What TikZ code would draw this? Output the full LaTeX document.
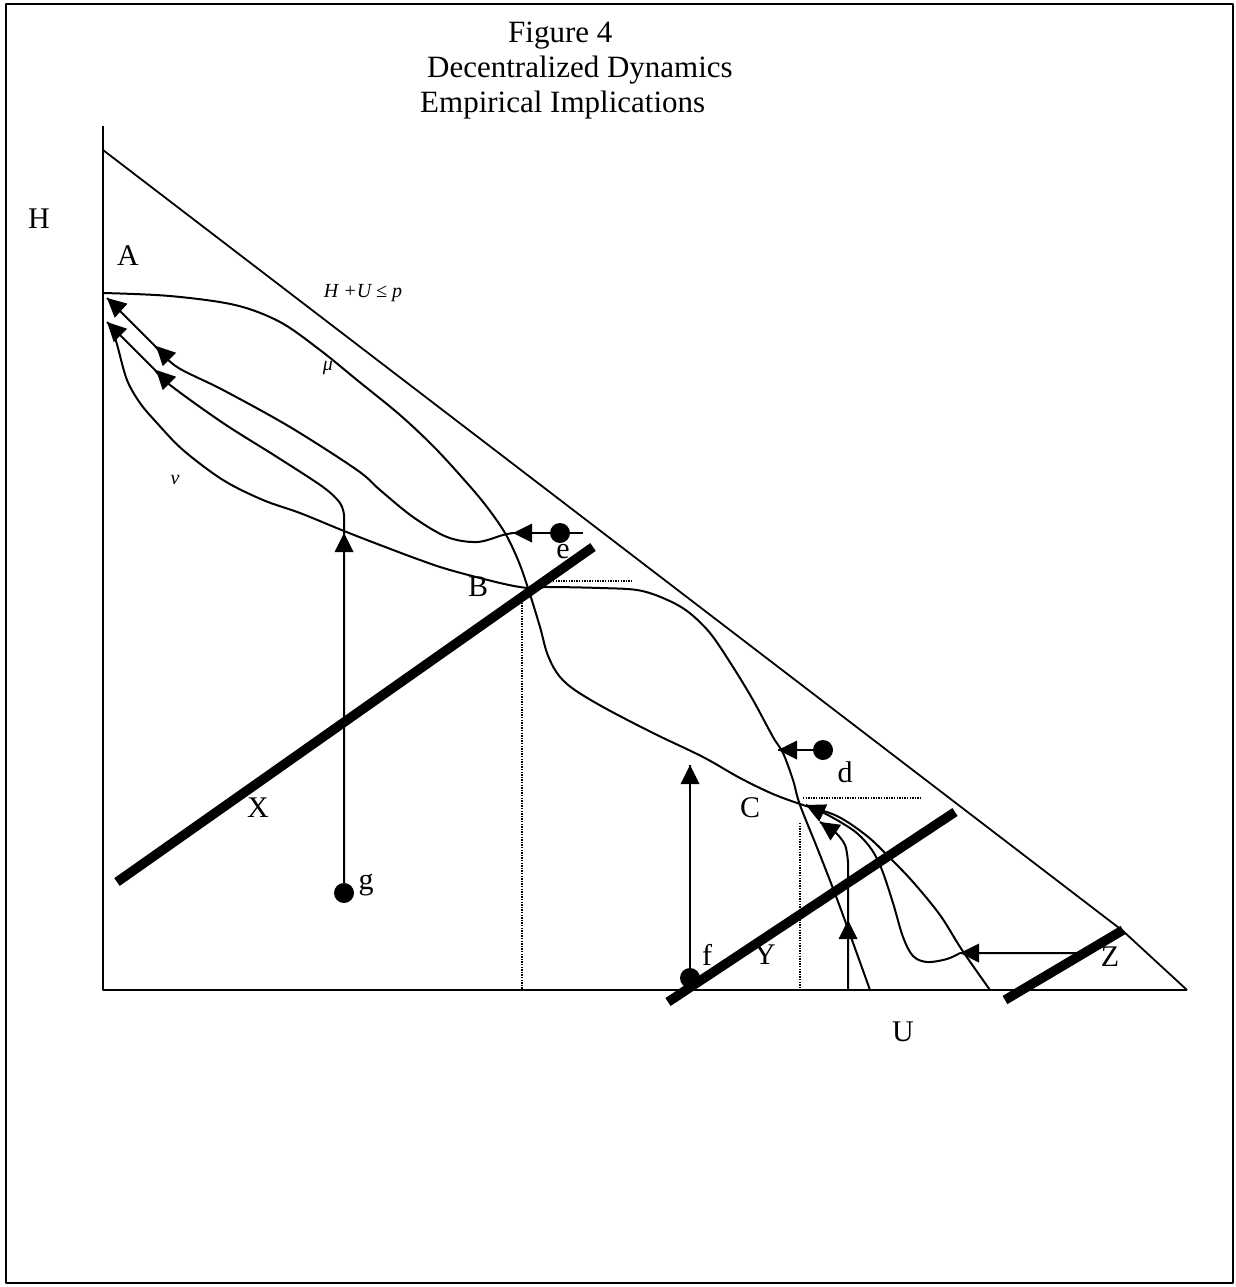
\documentclass[tikz,border=0pt]{standalone}
\usepackage{fontspec}
\setmainfont{Liberation Serif}
% arrowhead: tip at (#1,#2), visual direction #3 (counterclockwise, 0 = right)
\newcommand{\ahd}[3]{\fill[shift={(#1,#2)},rotate=#3] (0,0) -- (-19,9.5) -- (-19,-9.5) -- cycle;}
\begin{document}
\begin{tikzpicture}[x=1pt,y=-1pt,line join=round,
  curve/.style={line width=2pt},
  axis/.style={line width=2.4pt},
  thickline/.style={line width=9.5pt},
  dotted line/.style={line width=1.1pt,dash pattern=on 1.3pt off 1.3pt},
  dot/.style={circle,fill=black,inner sep=0pt,minimum size=20pt},
  lab/.style={font=\fontsize{30}{30}\selectfont,inner sep=0pt},
  ttl/.style={font=\fontsize{31}{31}\selectfont,inner sep=0pt,anchor=base west},
  glab/.style={font=\fontsize{20}{20}\selectfont\itshape,inner sep=0pt}]
\useasboundingbox (0,0) rectangle (1236,1287);
\draw[line width=2.4pt] (6,4) rectangle (1233,1283);
% title
\node[ttl] (t1) at (508,43) {Figure 4};
\node[ttl] (t2) at (427,78) {Decentralized Dynamics};
\node[ttl] (t3) at (420,113) {Empirical Implications};
% axes
\coordinate (O) at (103,990);
\coordinate (Htop) at (103,126);
\coordinate (Uend) at (1187,990);
\draw[axis] (Htop) -- (O) -- (Uend);
% budget line
\coordinate (bud0) at (103,150);
\coordinate (bud1) at (1123,931);
\draw[curve,line width=1.8pt] (bud0) -- (bud1) -- (Uend);
% mu curve
\draw[curve] plot[smooth,tension=0.55] coordinates {(103,293) (170,296) (235,305) (280,322) (320,350) (357,380) (400,415) (435,448) (467,483) (487,507) (505,533) (518,560) (528,588) (540,627) (547,653) (557,673) (572,688) (603,707) (653,733) (703,757) (740,778) (773,794) (803,805) (837,816) (867,836) (890,858) (913,882) (940,915) (962,950) (990,990)};
% nu curve
\draw[curve] plot[smooth,tension=0.55] coordinates {(112,326) (118,348) (127,380) (140,403) (157,423) (183,450) (223,480) (263,500) (300,513) (344,531) (380,545) (420,560) (450,570) (500,583) (528,588) (550,587) (600,588) (637,590) (663,598) (687,611) (710,633) (733,667) (753,700) (773,737) (783,753) (793,780) (800,805) (820,855) (840,907) (870,990)};
% dotted projections
\draw[dotted line] (540,581) -- (632,581);
\draw[dotted line] (522,600) -- (522,990);
\draw[dotted line] (803,798) -- (922,798);
\draw[dotted line] (800,823) -- (800,990);
% trajectory from e to A
\node[dot] (e) at (560,533) {};
\draw[curve] (583,533) -- (e.center) -- (513,533);
\ahd{513}{533}{180}
\draw[curve] plot[smooth,tension=0.55] coordinates {(513,533) (503,535) (477,542) (447,537) (413,517) (380,490) (357,470) (290,427) (223,390) (177,367) (155,346)} -- (107,298);
\ahd{156}{346}{135}
\ahd{107}{298}{138}
% trajectory from g to A
\node[dot] (g) at (344,893) {};
\draw[curve] (g.center) -- (344,515) plot[smooth,tension=0.55] coordinates {(344,515) (340,503) (323,487) (277,457) (223,423) (170,385) (155,370)} -- (107,322);
\ahd{344}{533}{90}
\ahd{156}{370}{135}
\ahd{107}{322}{135}
% f
\node[dot] (f) at (690,978) {};
\draw[curve] (f.center) -- (690,765);
\ahd{690}{765}{90}
% d
\node[dot] (d) at (823,750) {};
\draw[curve] (d.center) -- (778,750);
\ahd{778}{750}{180}
% vertical trajectory into C
\coordinate (v0) at (848,990);
\draw[curve] (v0) -- (848,862) plot[smooth,tension=0.55] coordinates {(848,862) (845,845) (835,832) (820,822)};
\ahd{848}{920}{90}
\ahd{820}{822}{146}
% Z trajectory into C
\coordinate (z0) at (1077,953);
\draw[curve] (z0) -- (960,953) plot[smooth,tension=0.55] coordinates {(960,953) (947,959) (927,962) (913,956) (903,937) (893,903) (882,870) (872,850) (858,834) (842,823) (824,813) (806,805)};
\ahd{960}{953}{180}
\ahd{806}{805}{155}
% thick lines
\draw[thickline] (117,882) -- (593,547);
\draw[thickline] (668,1002) -- (955,812);
\draw[thickline] (1005,1000) -- (1123,930);
% labels
\node[lab] (lH) at (39,219) {H};
\node[lab] (lA) at (128,256) {A};
\node[lab] (lB) at (478,587) {B};
\node[lab] (lC) at (750,808) {C};
\node[lab] (lX) at (258,808) {X};
\node[lab] (lY) at (765,955) {Y};
\node[lab] (lZ) at (1110,957) {Z};
\node[lab] (lU) at (903,1032) {U};
\node[lab] (le) at (563,552) {e};
\node[lab] (ld) at (845,772) {d};
\node[lab] (lf) at (707,955) {f};
\node[lab] (lg) at (366,885) {g};
\node[glab] (lbud) at (363,293) {H +U ≤ p};
\node[glab] (lmu) at (328,368) {μ};
\node[glab] (lnu) at (175,480) {ν};
\end{tikzpicture}
\end{document}
